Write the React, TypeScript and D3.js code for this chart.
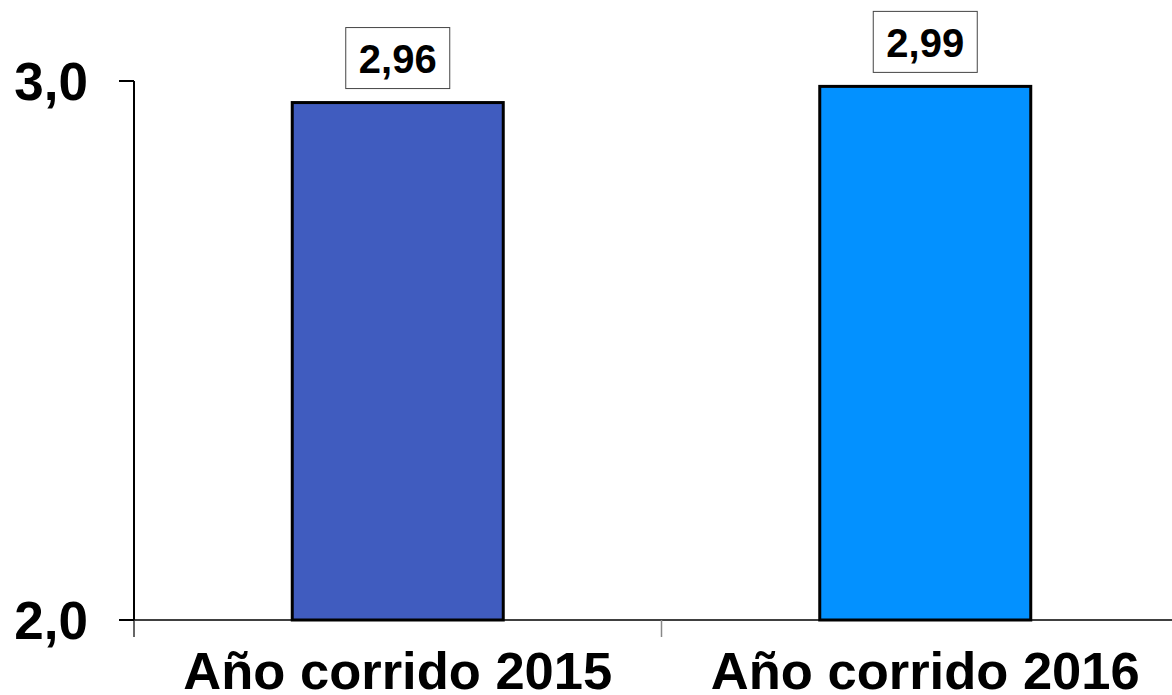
import React from "react";
import * as d3 from "d3";

const categories = ["Año corrido 2015", "Año corrido 2016"];
const values = [2.96, 2.99];
const valueLabels = ["2,96", "2,99"];
const yTicks = [2.0, 3.0];
const yTickLabels = ["2,0", "3,0"];
const colors = ["#405CBF", "#0391FF"];

export default function App() {
  const W = 1172, H = 695;
  const x = d3.scaleBand<string>().domain(categories).range([134, 1189]).paddingInner(0.6).paddingOuter(0.3);
  const y = d3.scaleLinear().domain([2, 3]).range([620, 81]);
  const step = x.step();
  const font = "'Liberation Sans', Arial, sans-serif";
  const boundaries = [134, ...categories.slice(1).map((c) => (x(c) as number) - (step - x.bandwidth()) / 2)];
  return (
    <svg width={W} height={H} style={{ position: "absolute", left: 0, top: 0, background: "#fff" }} fontFamily={font}>
      {/* x axis */}
      <line x1={134} x2={W} y1={y(2)} y2={y(2)} stroke="#000" strokeWidth={1.5} />
      {boundaries.map((b, i) => (
        <line key={i} x1={b} x2={b} y1={y(2)} y2={y(2) + 17} stroke={i === 0 ? "#333" : "#888"} strokeWidth={1.5} />
      ))}
      {/* y axis */}
      <line x1={134} x2={134} y1={y(3)} y2={y(2)} stroke="#000" strokeWidth={2} />
      {yTicks.map((t, i) => (
        <g key={i}>
          <line x1={119} x2={134} y1={y(t)} y2={y(t)} stroke="#000" strokeWidth={2} />
          <text x={88} y={y(t)} dy="0.36em" textAnchor="end" fontSize={53} fontWeight="bold" fill="#000">
            {yTickLabels[i]}
          </text>
        </g>
      ))}
      {/* bars */}
      {categories.map((c, i) => {
        const bx = x(c) as number;
        const bw = x.bandwidth();
        const top = y(values[i]);
        const cx = bx + bw / 2;
        const cy = top - 44;
        return (
          <g key={c}>
            <rect x={bx} y={top} width={bw} height={y(2) - top} fill={colors[i]} stroke="#000" strokeWidth={3} />
            <rect x={cx - 52} y={cy - 31} width={104} height={61} fill="#fff" stroke="#444" strokeWidth={1} />
            <text x={cx} y={cy} dy="0.36em" textAnchor="middle" fontSize={40} fontWeight="bold" fill="#000">
              {valueLabels[i]}
            </text>
            <text x={cx} y={689} textAnchor="middle" fontSize={52.5} fontWeight="bold" fill="#000">
              {c}
            </text>
          </g>
        );
      })}
    </svg>
  );
}
